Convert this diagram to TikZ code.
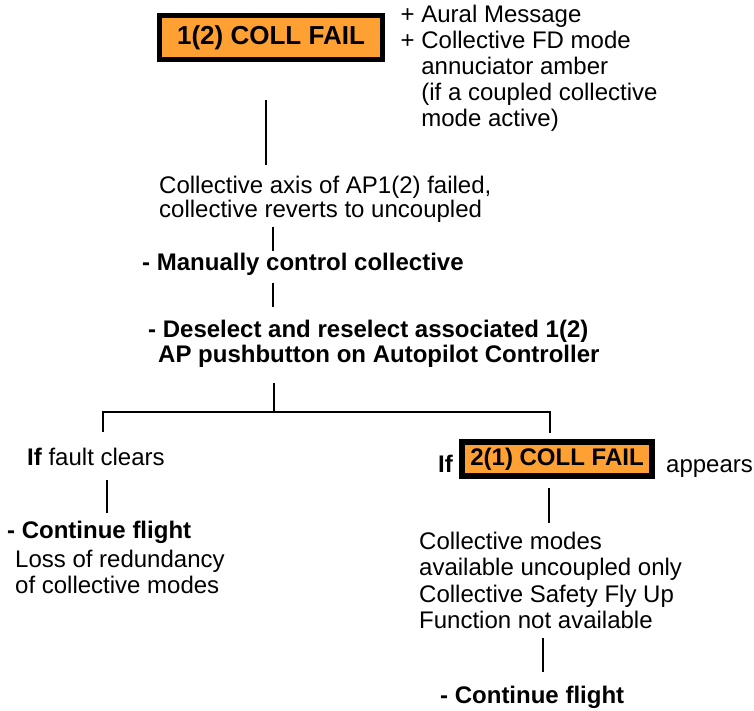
\documentclass[tikz,border=0pt]{standalone}
\usepackage{fontspec}
\setmainfont{Liberation Sans}
\definecolor{amber}{RGB}{255,160,50}
\begin{document}
\begin{tikzpicture}[x=1pt,y=-1pt,
  % multi-line texts are placed by the baseline of their last line
  txt/.style={inner sep=0pt, anchor=base west, align=left, font=\fontsize{24}{26}\selectfont},
  boldtxt/.style={txt, font=\fontsize{24}{25}\selectfont\bfseries},
  alarm/.style={draw=black, line width=5pt, fill=amber, inner sep=0pt},
  link/.style={line width=2pt, line cap=butt, line join=miter}]
\useasboundingbox (0,0) rectangle (754,710);

% caution message and associated cues
\node[alarm, minimum width=223pt, minimum height=44pt,
      font=\fontsize{26}{26}\selectfont\bfseries] (fail1) at (271,37.5) {1(2) COLL FAIL};
\node[txt] (cues) at (400.5,126.7)
  {+ Aural Message\\+ Collective FD mode\\\hphantom{+ }annuciator amber\\\hphantom{+ }(if a coupled collective\\\hphantom{+ }mode active)};

% main sequence
\node[txt, font=\fontsize{24}{24}\selectfont] (axis) at (159,217)
  {Collective axis of AP1(2) failed,\\collective reverts to uncoupled};
\node[boldtxt] (manual) at (142,270) {- Manually control collective};
\node[boldtxt] (reselect) at (148,362)
  {- Deselect and reselect associated 1(2)\\\hspace*{10pt}AP pushbutton on Autopilot Controller};

% left branch
\node[txt] (fault) at (27,465) {\textbf{If} fault clears};
\node[boldtxt] (cont1) at (7,538) {- Continue flight};
\node[txt] (loss) at (15,593) {Loss of redundancy\\of collective modes};

% right branch
\node[boldtxt] (if2) at (438,472) {If};
\node[alarm, line width=6pt, minimum width=190pt, minimum height=34pt,
      font=\fontsize{24}{24}\selectfont\bfseries] (fail2) at (557,459) {2(1) COLL FAIL};
\node[txt] (appears) at (666,472) {appears};
\node[txt, font=\fontsize{24}{26.5}\selectfont] (modes) at (419,628.5)
  {Collective modes\\available uncoupled only\\Collective Safety Fly Up\\Function not available};
\node[boldtxt] (cont2) at (440,703) {- Continue flight};

% connector end points
\coordinate (a1) at (266,100); \coordinate (a2) at (266,165);
\coordinate (b1) at (273,227); \coordinate (b2) at (273,251);
\coordinate (c1) at (273,283); \coordinate (c2) at (273,307);
\coordinate (d1) at (274,383); \coordinate (d2) at (274,412);
\coordinate (bl) at (103,432); \coordinate (blt) at (103,412);
\coordinate (brt) at (550,412); \coordinate (br) at (550,433);
\coordinate (e1) at (107,480); \coordinate (e2) at (107,513);
\coordinate (f1) at (549,488); \coordinate (f2) at (549,523);
\coordinate (g1) at (543,638); \coordinate (g2) at (543,672);

\draw[link] (a1) -- (a2);
\draw[link] (b1) -- (b2);
\draw[link] (c1) -- (c2);
\draw[link] (d1) -- (d2);
\draw[link] (bl) -- (blt) -- (brt) -- (br);
\draw[link] (e1) -- (e2);
\draw[link] (f1) -- (f2);
\draw[link] (g1) -- (g2);
\end{tikzpicture}
\end{document}
